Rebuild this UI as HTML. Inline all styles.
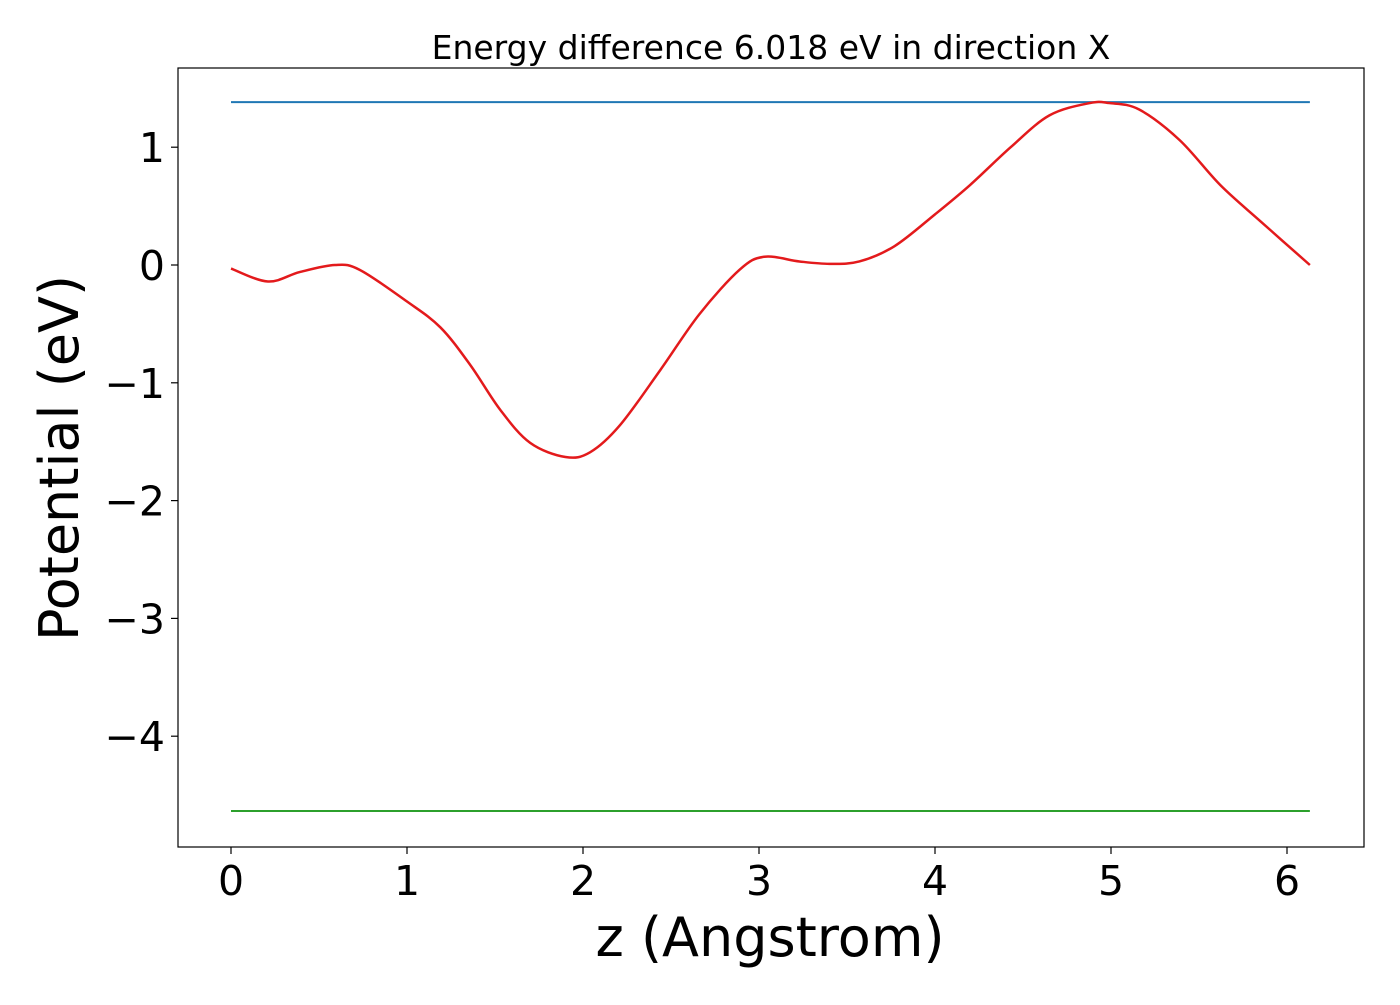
<!DOCTYPE html>
<html><head><meta charset="utf-8"><style>
body{margin:0;background:#fff;}
svg text{font-family:"DejaVu Sans","Liberation Sans",sans-serif;fill:#000;}
</style></head><body>
<svg id="chart" width="1400" height="1000" xmlns="http://www.w3.org/2000/svg">
<rect width="1400" height="1000" fill="#fff"/>
<text x="771" y="59" font-size="33" text-anchor="middle">Energy difference 6.018 eV in direction X</text>
<g id="plot"></g>
<rect x="178" y="68" width="1186" height="779" fill="none" stroke="#000" stroke-width="1.2"/>
<text x="770" y="956" font-size="54" text-anchor="middle">z (Angstrom)</text>
<text transform="translate(78,458) rotate(-90)" font-size="54" text-anchor="middle">Potential (eV)</text>
</svg>
<script>
const xTicks=[0,1,2,3,4,5,6];
const yTicks=[1,0,-1,-2,-3,-4];
const yTickLabels=["1","0","\u22121","\u22122","\u22123","\u22124"];
const zValues=[0,0.21,0.39,0.59,0.73,1.0,1.19,1.36,1.53,1.70,1.90,2.04,2.21,2.44,2.66,2.89,3.03,3.23,3.40,3.57,3.77,4.0,4.20,4.43,4.65,4.88,4.99,5.16,5.39,5.62,5.85,6.13];
const potential=[-0.03,-0.14,-0.06,0.0,-0.04,-0.31,-0.53,-0.85,-1.23,-1.51,-1.63,-1.59,-1.36,-0.89,-0.42,-0.04,0.07,0.03,0.01,0.03,0.16,0.43,0.68,1.0,1.27,1.375,1.375,1.32,1.06,0.68,0.37,0.0];
const vacuumLevel=1.383;
const fermiLevel=-4.635;
const zMax=6.13;
const sx=v=>231+v*176;
const sy=v=>265-v*117.8;
const NS="http://www.w3.org/2000/svg";
const g=document.getElementById('plot');
function mk(t,a){const e=document.createElementNS(NS,t);for(const k in a)e.setAttribute(k,a[k]);g.appendChild(e);return e;}
xTicks.forEach(v=>{
 const l=mk('line',{x1:sx(v),x2:sx(v),y1:847,y2:854,stroke:'#000','stroke-width':1.2});
 
 
 const t=mk('text',{x:sx(v),y:895,'font-size':41,'text-anchor':'middle'});
 t.textContent=String(v);
 
 
});
yTicks.forEach((v,i)=>{
 const l=mk('line',{x1:171,x2:178,y1:sy(v),y2:sy(v),stroke:'#000','stroke-width':1.2});
 
 
 const t=mk('text',{x:165,y:sy(v)+15,'font-size':41,'text-anchor':'end'});
 t.textContent=yTickLabels[i];
 
 
});
const vl=mk('line',{x1:sx(0),x2:sx(zMax),y1:sy(vacuumLevel),y2:sy(vacuumLevel),stroke:'#1f77b4','stroke-width':2});


const fl=mk('line',{x1:sx(0),x2:sx(zMax),y1:sy(fermiLevel),y2:sy(fermiLevel),stroke:'#2ca02c','stroke-width':2});


const P=zValues.map((z,i)=>[sx(z),sy(potential[i])]);
let d='M'+P[0][0]+','+P[0][1];
for(let i=0;i<P.length-1;i++){
 const p0=P[Math.max(0,i-1)],p1=P[i],p2=P[i+1],p3=P[Math.min(P.length-1,i+2)];
 const c1=[p1[0]+(p2[0]-p0[0])/6,p1[1]+(p2[1]-p0[1])/6];
 const c2=[p2[0]-(p3[0]-p1[0])/6,p2[1]-(p3[1]-p1[1])/6];
 d+=' C'+c1[0]+','+c1[1]+' '+c2[0]+','+c2[1]+' '+p2[0]+','+p2[1];
}
const pc=mk('path',{d:d,fill:'none',stroke:'#e31a1c','stroke-width':2.5});


</script>
</body></html>
